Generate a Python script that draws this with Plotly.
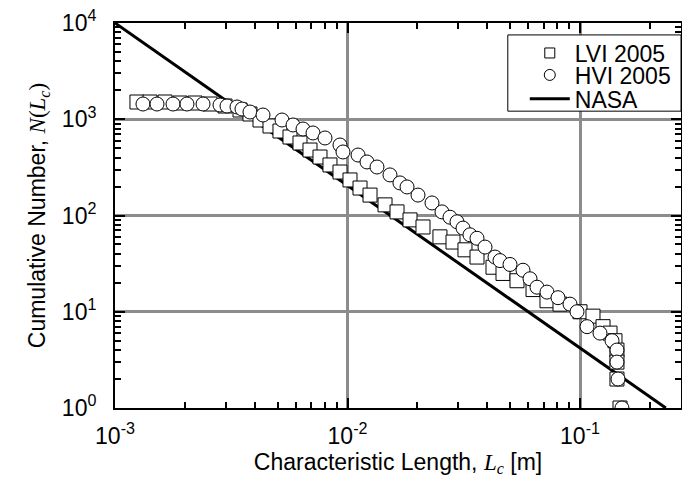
import plotly.graph_objects as go

# ---------------- data ----------------
lvi_L = [1.243e-3, 1.414e-3, 1.641e-3, 1.905e-3, 2.209e-3, 2.563e-3, 2.973e-3, 3.449e-3,
         3.807e-3, 4.204e-3, 4.642e-3, 5.124e-3, 5.658e-3, 6.247e-3, 6.897e-3, 7.615e-3,
         8.407e-3, 9.283e-3, 1.025e-2, 1.132e-2, 1.250e-2, 1.450e-2, 1.633e-2, 1.857e-2,
         2.112e-2, 2.498e-2, 2.843e-2, 3.201e-2, 3.606e-2, 4.225e-2, 4.665e-2, 5.358e-2,
         6.280e-2, 7.210e-2, 8.203e-2, 0.1000, 0.1137, 0.1256, 0.1346, 0.1414, 0.1442,
         0.1442, 0.1442, 0.1486]
lvi_N = [1511, 1511, 1511, 1475, 1475, 1440, 1373, 1248,
         1134, 982, 851, 755, 654, 567, 479, 405,
         335, 283, 234, 193, 163, 129, 109, 90,
         76, 60, 53, 44, 37, 29, 25, 21,
         17, 13, 12, 10, 9, 7, 6, 5, 4,
         3, 2, 1]

hvi_L = [1.319e-3, 1.516e-3, 1.776e-3, 2.040e-3, 2.391e-3, 2.829e-3, 3.032e-3, 3.347e-3,
         3.517e-3, 3.807e-3, 4.331e-3, 5.227e-3, 5.830e-3, 6.435e-3, 7.105e-3, 8.002e-3,
         9.283e-3, 9.563e-3, 1.110e-2, 1.213e-2, 1.339e-2, 1.523e-2, 1.681e-2, 1.803e-2,
         2.010e-2, 2.309e-2, 2.549e-2, 2.760e-2, 2.958e-2, 3.139e-2, 3.363e-2, 3.606e-2,
         3.903e-2, 4.309e-2, 4.528e-2, 5.000e-2, 5.686e-2, 6.095e-2, 6.532e-2, 7.210e-2,
         8.042e-2, 9.057e-2, 9.707e-2, 0.1072, 0.1219, 0.1373, 0.1442, 0.1442, 0.1457, 0.1515]
hvi_N = [1440, 1440, 1440, 1440, 1440, 1406, 1373, 1341,
         1278, 1189, 1107, 982, 872, 792, 720, 639,
         540, 457, 425, 360, 319, 264, 218, 198,
         163, 135, 109, 96, 86, 74, 63, 58,
         47, 37, 34, 31, 27, 22, 18, 16,
         14, 12, 10, 7, 6, 5, 4, 3, 2, 1]

nasa_L = [1.0e-3, 0.234]
nasa_N = [1.0e4, 1.0]

x_tick_vals = [1e-3, 1e-2, 1e-1]
x_tick_text = ["10<sup>-3</sup>", "10<sup>-2</sup>", "10<sup>-1</sup>"]
y_tick_vals = [1, 10, 100, 1000, 10000]
y_tick_text = ["10<sup>0</sup>", "10<sup>1</sup>", "10<sup>2</sup>", "10<sup>3</sup>", "10<sup>4</sup>"]

series_names = ["LVI 2005", "HVI 2005", "NASA"]

# ---------------- figure ----------------
FONT = "Liberation Sans, Arial, sans-serif"

fig = go.Figure()
fig.add_trace(go.Scatter(x=nasa_L, y=nasa_N, mode="lines",
                         line=dict(color="black", width=3), showlegend=False))
fig.add_trace(go.Scatter(x=lvi_L, y=lvi_N, mode="markers", showlegend=False,
                         marker=dict(symbol="square", size=14, color="white",
                                     line=dict(color="black", width=1))))
fig.add_trace(go.Scatter(x=hvi_L, y=hvi_N, mode="markers", showlegend=False,
                         marker=dict(symbol="circle", size=14, color="white",
                                     line=dict(color="black", width=1))))

# legend entries
fig.add_trace(go.Scatter(x=[None], y=[None], mode="markers", name=series_names[0], legend="legend",
                         marker=dict(symbol="square", size=10, color="white",
                                     line=dict(color="black", width=1))))
fig.add_trace(go.Scatter(x=[None], y=[None], mode="markers", name=series_names[1], legend="legend2",
                         marker=dict(symbol="circle", size=11, color="white",
                                     line=dict(color="black", width=1))))
fig.add_trace(go.Scatter(x=[None], y=[None], mode="lines", name=series_names[2], legend="legend3",
                         line=dict(color="black", width=3)))

leg_common = dict(xanchor="left", yanchor="middle", bgcolor="rgba(0,0,0,0)",
                  borderwidth=0, itemwidth=40,
                  font=dict(family=FONT, size=23, color="black"))
fig.update_layout(
    legend=dict(x=0.724, y=0.922, **leg_common),
    legend2=dict(x=0.724, y=0.865, **leg_common),
    legend3=dict(x=0.724, y=0.803, **leg_common),
)

fig.add_shape(type="rect", xref="paper", yref="paper", x0=0.694, x1=1.0, y0=0.771, y1=0.969,
              line=dict(color="black", width=1), fillcolor="white", layer="above")

minor_x = [m * 10 ** e for e in (-3, -2, -1) for m in range(2, 10)]
minor_y = [m * 10 ** e for e in (0, 1, 2, 3) for m in range(2, 10)]

axis_common = dict(
    type="log", showline=True, linecolor="black", linewidth=2, mirror="allticks",
    ticks="inside", ticklen=10, tickwidth=1.5, tickcolor="black",
    showgrid=True, gridcolor="#8c8c8c", gridwidth=3,
    tickfont=dict(family=FONT, size=23, color="black"), zeroline=False,
    automargin=False, ticklabeloverflow="allow",
)

fig.update_xaxes(
    range=[-3, -0.5656], tickmode="array", tickvals=x_tick_vals, ticktext=x_tick_text,
    minor=dict(tickmode="array", tickvals=minor_x, ticks="inside", ticklen=6,
               tickwidth=1.5, tickcolor="black", showgrid=False),
    ticklabelstandoff=6,
    title=dict(text="Characteristic Length, <span style=\"font-family:Liberation Serif\"><i>L</i><sub><i>c</i></sub></span> [m]",
               font=dict(family=FONT, size=23, color="black"), standoff=2),
    **axis_common,
)
fig.update_yaxes(
    range=[0, 4], tickmode="array", tickvals=y_tick_vals, ticktext=y_tick_text,
    minor=dict(tickmode="array", tickvals=minor_y, ticks="inside", ticklen=6,
               tickwidth=1.5, tickcolor="black", showgrid=False),
    ticklabelstandoff=12,
    title=dict(text="Cumulative Number, <span style=\"font-family:Liberation Serif\"><i>N</i>(<i>L</i><sub><i>c</i></sub>)</span>",
               font=dict(family=FONT, size=23, color="black"), standoff=10),
    **axis_common,
)

fig.update_layout(
    width=682, height=485,
    margin=dict(l=115, r=1, t=23, b=77),
    paper_bgcolor="white", plot_bgcolor="white",
    font=dict(family=FONT, color="black"),
)

# remove the browser's default 8 px body margin so the figure fills the window
fig.write_html("out.html", config={"displayModeBar": False},
               post_script="document.body.style.margin='0px';")
